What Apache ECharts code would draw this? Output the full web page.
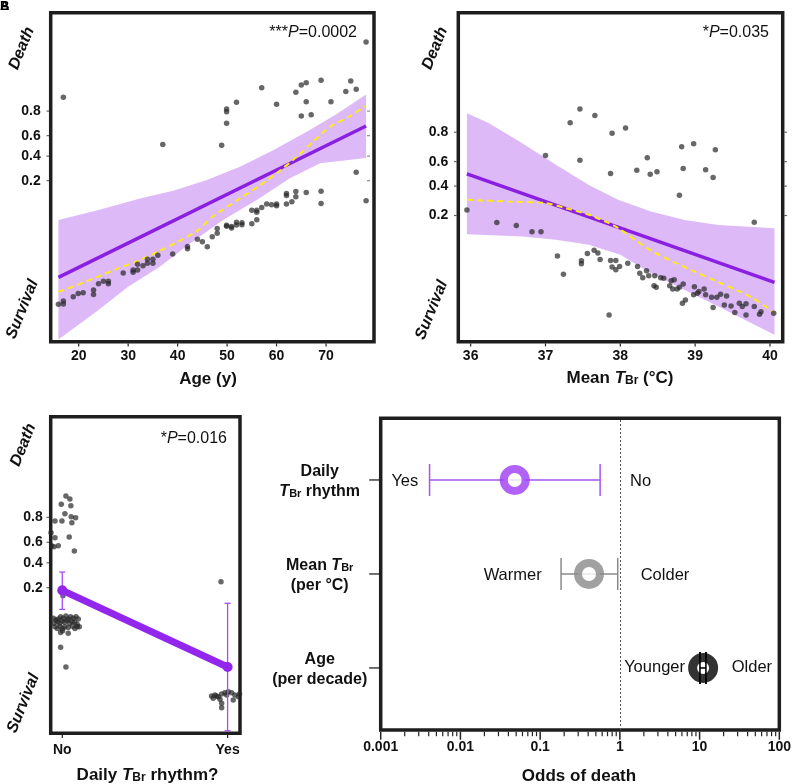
<!DOCTYPE html>
<html><head><meta charset="utf-8">
<script src="https://cdn.jsdelivr.net/npm/echarts@6/dist/echarts.min.js"></script>
<style>html,body{margin:0;padding:0;background:#fff}#c{width:794px;height:784px}</style>
</head><body><div id="c"></div>
<script>
// ---------------- DATA ----------------
const probTicks = [0.2, 0.4, 0.6, 0.8];
const ageTicks = [20, 30, 40, 50, 60, 70];
const tempTicks = [36, 37, 38, 39, 40];
const rhythmCats = ['No', 'Yes'];
const oddsTickLabels = ['0.001', '0.01', '0.1', '1', '10', '100'];

const ageSurvived = [[15.9,-6.30],[16.9,-6.17],[16.9,-6.29],[18.9,-6.00],[19.9,-5.87],[20.9,-5.84],[23.0,-5.73],[23.0,-5.91],[24.0,-5.48],[25.0,-5.38],[26.0,-5.38],[26.0,-5.48],[29.0,-5.06],[31.0,-4.94],[31.0,-5.03],[31.9,-4.71],[31.9,-4.94],[33.0,-4.77],[33.9,-4.51],[33.9,-4.67],[35.0,-4.51],[35.0,-4.67],[36.0,-4.35],[39.0,-4.30],[42.0,-4.00],[42.0,-4.09],[44.0,-3.71],[45.0,-3.81],[46.0,-4.01],[47.0,-3.61],[48.0,-3.48],[48.0,-3.29],[49.9,-3.16],[49.9,-3.20],[50.9,-3.21],[50.9,-3.27],[51.9,-3.04],[51.9,-3.15],[53.0,-3.06],[53.0,-3.14],[55.0,-3.10],[55.0,-2.56],[56.0,-2.56],[56.0,-2.64],[56.0,-2.94],[57.0,-2.45],[58.0,-2.31],[59.0,-2.34],[60.0,-2.31],[60.0,-2.38],[62.0,-1.89],[62.0,-1.97],[62.0,-2.31],[63.1,-2.22],[63.9,-1.81],[63.9,-2.02],[66.0,-1.85],[69.0,-1.80],[69.0,-2.29],[78.1,-2.18],[76.1,-1.05]];
const ageDied = [[16.9,1.94],[37.0,0.06],[48.9,0.03],[49.9,1.47],[49.9,1.36],[49.9,0.90],[51.9,1.74],[57.0,2.31],[60.0,1.66],[63.9,2.13],[65.0,2.42],[66.0,2.51],[66.0,1.76],[65.0,1.19],[67.0,1.24],[69.0,2.61],[71.0,1.76],[74.0,2.16],[75.0,2.58],[76.1,2.25],[78.1,4.13]];
const ageFitX = [15.9, 78.1];
const ageFitY = [-5.23, 0.79];
const ageLoessX = [15.9,19.2,23.9,28.0,32.0,36.0,40.1,44.1,47.2,52.6,56.7,60.0,64.1,67.4,70.8,74.9,77.9];
const ageLoessY = [-5.80,-5.57,-5.20,-4.87,-4.57,-4.21,-3.81,-3.35,-2.80,-2.09,-1.56,-1.09,-0.43,0.17,0.76,1.19,1.58];
const ageBandUpX = [15.9,24.0,32.4,39.1,45.9,52.6,59.3,66.1,72.0,78.1];
const ageBandUpY = [-2.95,-2.55,-2.09,-1.78,-1.36,-0.83,-0.17,0.56,1.25,2.05];
const ageBandLoX = [15.9,24.0,30.0,36.4,42.5,49.2,56.0,62.7,68.8,78.1];
const ageBandLoY = [-7.70,-6.53,-5.60,-4.81,-3.88,-2.95,-2.15,-1.29,-0.69,-0.48];

const tempDied = [[37.46,2.16],[37.66,1.94],[37.33,1.70],[37.89,1.35],[37.00,0.61],[37.46,0.45],[37.87,0.01],[38.07,1.53],[38.82,0.90],[38.98,1.00],[38.36,0.54],[39.27,0.80],[38.22,0.12],[38.40,-0.01],[38.49,0.07],[38.84,0.18],[39.14,0.14],[39.24,-0.12],[38.79,-0.71],[39.79,-1.61]];
const tempSurvived = [[35.95,-1.20],[36.35,-1.62],[36.61,-1.72],[36.82,-1.92],[36.94,-1.92],[37.16,-2.73],[37.24,-3.34],[37.48,-2.89],[37.48,-2.99],[37.56,-2.65],[37.65,-2.54],[37.70,-2.63],[37.73,-2.85],[37.87,-2.88],[37.89,-3.10],[37.94,-2.88],[37.94,-3.19],[37.85,-4.69],[37.99,-3.08],[38.10,-2.97],[38.23,-3.08],[38.26,-3.30],[38.30,-3.45],[38.35,-3.22],[38.38,-3.39],[38.46,-3.39],[38.45,-3.72],[38.48,-3.77],[38.54,-3.45],[38.58,-3.47],[38.66,-3.72],[38.68,-3.55],[38.72,-3.52],[38.70,-3.83],[38.76,-3.83],[38.79,-3.77],[38.84,-3.66],[38.83,-4.30],[38.87,-4.19],[38.99,-3.75],[38.98,-4.02],[39.03,-3.97],[39.05,-3.91],[39.12,-3.83],[39.14,-4.02],[39.22,-4.10],[39.24,-4.44],[39.29,-4.10],[39.34,-4.00],[39.42,-4.06],[39.39,-4.36],[39.48,-4.39],[39.53,-4.61],[39.59,-4.30],[39.63,-4.41],[39.68,-4.32],[39.68,-4.69],[39.79,-4.41],[39.88,-4.58],[39.86,-4.67],[40.05,-4.63]];
const tempFitX = [35.95, 40.06];
const tempFitY = [0.00, -3.61];
const tempLoessX = [35.95,36.5,37.0,37.27,37.58,37.85,37.97,38.41,38.86,39.31,39.75,40.06];
const tempLoessY = [-0.86,-0.92,-0.97,-1.14,-1.36,-1.64,-1.80,-2.55,-3.10,-3.60,-4.10,-4.63];
const tempBandUpX = [35.95,36.24,36.69,37.14,37.58,37.97,38.41,38.86,39.31,40.06];
const tempBandUpY = [2.02,1.69,1.02,0.30,-0.37,-0.86,-1.25,-1.53,-1.70,-1.81];
const tempBandLoX = [35.95,36.69,37.14,37.58,38.0,38.41,38.86,39.31,40.06];
const tempBandLoY = [-2.01,-2.08,-2.19,-2.36,-2.69,-3.30,-3.86,-4.41,-5.35];

const rhythmPoints = [[0.022,2.23],[0.046,2.11],[-0.006,1.90],[0.052,1.84],[0.016,1.53],[-0.044,1.24],[-0.002,1.24],[0.054,1.41],[0.081,1.37],[0.058,1.17],[-0.068,0.78],[-0.044,0.58],[0.042,0.61],[-0.064,0.27],[-0.050,0.23],[-0.024,0.27],[0.073,0.06],[0.004,-1.70],
[-0.054,-2.59],[-0.038,-2.66],[-0.024,-2.62],[-0.010,-2.53],[0.006,-2.59],[0.022,-2.50],[0.036,-2.62],[0.050,-2.53],[0.067,-2.59],[0.083,-2.53],[0.097,-2.62],
[-0.050,-2.79],[-0.030,-2.72],[-0.016,-2.79],[0.000,-2.70],[0.014,-2.75],[0.030,-2.68],[0.044,-2.79],[0.060,-2.72],[0.075,-2.75],[0.090,-2.82],[0.103,-2.92],
[-0.044,-2.92],[-0.030,-2.99],[-0.014,-2.90],[0.002,-2.99],[0.016,-2.92],[0.036,-2.95],[0.062,-2.90],[0.076,-2.99],[0.090,-2.92],
[0.002,-3.08],[0.036,-3.18],[-0.010,-3.15],[-0.010,-3.73],[0.022,-4.51],
[0.960,-1.15],[0.903,-5.65],[0.923,-5.61],[0.944,-5.68],[0.964,-5.57],[0.984,-5.52],[1.004,-5.48],[1.024,-5.52],[1.044,-5.61],[1.065,-5.68],[0.913,-5.74],[0.954,-5.78],[0.964,-5.94],[0.964,-6.11],[1.034,-5.81],[1.072,-5.57],[0.933,-5.65],[0.994,-5.61]];
const rhythmMean = [-1.49, -4.51];
const rhythmCiLow = [-2.24, -7.02];
const rhythmCiHigh = [-0.77, -2.00];

const forestRows = ['Age', 'Mean TBr', 'Daily TBr rhythm'];
const forestOdds = [11.07, 0.41, 0.048];
const forestLow = [10.1, 0.183, 0.0041];
const forestHigh = [12.0, 0.94, 0.565];

// ---------------- STYLE ----------------
const F = "'Liberation Sans', Arial, Helvetica, sans-serif";
const INK = '#111';
const BORDER = '#1e1e1e';
const PURPLE = '#8a1fe2';
const BAND = '#ddbaf7';
const YELLOW = '#ffe81a';
const DOT = 'rgba(38,38,38,0.88)';
const rowColors = ['#000000', '#8a8a8a', '#9d3cf6'];
const rowCiColors = ['#000000', '#8a8a8a', '#a653f5'];

const logit = p => Math.log(p / (1 - p));
const probLabel = v => (1 / (1 + Math.exp(-v))).toFixed(1);
const zip = (xs, ys) => xs.map((x, i) => [x, ys[i]]);
const L10 = Math.log10;

const ext = [[14.34, 79.70, -7.79, 5.30], [35.835, 40.17, -5.58, 5.36], [-0.07, 1.075, -7.12, 5.35], [-3, 2, 0.34, 3.656]];
const gridBox = [[50.7, 12.7, 323.3, 329], [458.3, 12.7, 324.4, 329], [50.7, 416.7, 189.3, 316.6], [380.7, 418.3, 400.3, 311.7]];

const gridStyle = {show: true, borderColor: BORDER, borderWidth: 3.5, backgroundColor: 'transparent', containLabel: false};
const tickLbl = {color: INK, fontFamily: F, fontWeight: 'bold', fontSize: 14};
const noLine = {show: false, onZero: false};

function xAx(gi, ticks, fmt, margin) {
  return {type: 'value', gridIndex: gi, position: 'bottom', min: ext[gi][0], max: ext[gi][1], axisLine: noLine, splitLine: {show: false},
    axisTick: {show: false},
    axisLabel: Object.assign({customValues: ticks, margin: margin, formatter: fmt}, tickLbl)};
}
function yLogit(gi, margin) {
  const t = probTicks.map(logit);
  return {type: 'value', gridIndex: gi, position: 'left', min: ext[gi][2], max: ext[gi][3], axisLine: noLine, splitLine: {show: false},
    axisTick: {show: false},
    axisLabel: Object.assign({customValues: t, margin: margin, formatter: probLabel}, tickLbl)};
}
function band(xi, ux, uy, lx, ly) {
  return {type: 'custom', xAxisIndex: xi, yAxisIndex: xi, silent: true, z: 1, clip: true,
    data: [[ux[0], uy[0]]],
    renderItem: (params, api) => {
      const pts = [];
      for (let i = 0; i < ux.length; i++) pts.push(api.coord([ux[i], uy[i]]));
      for (let i = lx.length - 1; i >= 0; i--) pts.push(api.coord([lx[i], ly[i]]));
      return {type: 'polygon', shape: {points: pts}, style: {fill: BAND}};
    }};
}
function fitLine(xi, xs, ys) {
  return {type: 'line', xAxisIndex: xi, yAxisIndex: xi, data: zip(xs, ys), showSymbol: false, silent: true, z: 3,
    lineStyle: {color: PURPLE, width: 3.5}};
}
function loess(xi, xs, ys) {
  return {type: 'line', xAxisIndex: xi, yAxisIndex: xi, data: zip(xs, ys), showSymbol: false, silent: true, z: 4,
    smooth: 0.3, lineStyle: {color: YELLOW, width: 2, type: [6, 4]}};
}
function dots(xi, data) {
  return {type: 'scatter', xAxisIndex: xi, yAxisIndex: xi, data, symbolSize: 5.5, z: 5, silent: true,
    itemStyle: {color: DOT}};
}

const richAxis = {
  b: {fontFamily: F, fontWeight: 'bold', fontSize: 16, color: INK, fill: INK, lineHeight: 20, verticalAlign: 'bottom'},
  bi: {fontFamily: F, fontWeight: 'bold', fontStyle: 'italic', fontSize: 16, color: INK, fill: INK, lineHeight: 20, verticalAlign: 'bottom'},
  bs: {fontFamily: F, fontWeight: 'bold', fontSize: 11, color: INK, fill: INK, lineHeight: 14, verticalAlign: 'bottom'}
};
const richTitle = {
  b: {fontFamily: F, fontWeight: 'bold', fontSize: 17, fill: INK, lineHeight: 21, verticalAlign: 'bottom'},
  bi: {fontFamily: F, fontWeight: 'bold', fontStyle: 'italic', fontSize: 17, fill: INK, lineHeight: 21, verticalAlign: 'bottom'},
  bs: {fontFamily: F, fontWeight: 'bold', fontSize: 12, fill: INK, lineHeight: 15, verticalAlign: 'bottom'}
};
const richP = {
  n: {fontFamily: F, fontSize: 16, fill: INK, lineHeight: 20, verticalAlign: 'bottom'},
  i: {fontFamily: F, fontSize: 16, fontStyle: 'italic', fill: INK, lineHeight: 20, verticalAlign: 'bottom'}
};
const rowLabelText = ['{b|Age}\n{b|(per decade)}', '{b|Mean }{bi|T}{bs|Br}\n{b|(per °C)}', '{b|Daily}\n{bi|T}{bs|Br}{b| rhythm}'];

function gtext(x, y, text, rich, align) {
  return {type: 'text', x, y, silent: true, z: 100,
    style: {text, rich, align: align, textAlign: align, verticalAlign: 'middle', textVerticalAlign: 'middle', fill: INK}};
}
function sideLabel(x, y, text) {
  return {type: 'text', x, y, rotation: 68 * Math.PI / 180, silent: true, z: 100,
    style: {text, fontFamily: F, fontWeight: 'bold', fontStyle: 'italic', fontSize: 16, fill: INK,
      align: 'center', textAlign: 'center', verticalAlign: 'middle', textVerticalAlign: 'middle'}};
}
function plain(x, y, text, align) {
  return {type: 'text', x, y, silent: true, z: 100,
    style: {text, fontFamily: F, fontSize: 16.5, fill: INK, align, textAlign: align, verticalAlign: 'middle', textVerticalAlign: 'middle'}};
}

const majorTicks = [-3, -2, -1, 0, 1, 2];
const minorTicks = [];
for (let d = -3; d < 2; d++) for (let k = 2; k <= 9; k++) minorTicks.push(d + L10(k));

function ciItem(api, color, dir) {
  const st = {stroke: color, lineWidth: dir === 'v' ? 1.3 : 1.5};
  let a, b, kids;
  if (dir === 'v') {
    const x = api.value(0);
    a = api.coord([x, api.value(1)]); b = api.coord([x, api.value(2)]);
    kids = [
      {type: 'line', shape: {x1: a[0] - 3, y1: a[1], x2: a[0] + 3, y2: a[1]}, style: st},
      {type: 'line', shape: {x1: b[0] - 3, y1: b[1], x2: b[0] + 3, y2: b[1]}, style: st}];
  } else {
    const r = api.value(2);
    a = api.coord([api.value(0), r]); b = api.coord([api.value(1), r]);
    kids = [
      {type: 'line', shape: {x1: a[0], y1: a[1] - 16, x2: a[0], y2: a[1] + 16}, style: st},
      {type: 'line', shape: {x1: b[0], y1: b[1] - 16, x2: b[0], y2: b[1] + 16}, style: st}];
  }
  kids.unshift({type: 'line', shape: {x1: a[0], y1: a[1], x2: b[0], y2: b[1]}, style: st});
  return {type: 'group', children: kids};
}

const chart = echarts.init(document.getElementById('c'), null, {renderer: 'canvas'});
chart.setOption({
  animation: false,
  backgroundColor: '#fff',
  grid: gridBox.map(g => Object.assign({left: g[0], top: g[1], width: g[2], height: g[3]}, gridStyle)),
  xAxis: [
    xAx(0, ageTicks, v => String(v), 7),
    xAx(1, tempTicks, v => String(v), 7),
    xAx(2, [0, 1], v => rhythmCats[Math.round(v)], 10),
    xAx(3, majorTicks, v => oddsTickLabels[Math.round(v) + 3], 10)
  ],
  yAxis: [
    yLogit(0, 10),
    yLogit(1, 10),
    yLogit(2, 8),
    {type: 'value', gridIndex: 3, position: 'left', min: ext[3][2], max: ext[3][3], axisLine: noLine, splitLine: {show: false},
      axisTick: {show: false},
      axisLabel: {customValues: [1, 2, 3], margin: 61, align: 'center', formatter: v => rowLabelText[Math.round(v) - 1], rich: richAxis}}
  ],
  series: [
    band(0, ageBandUpX, ageBandUpY, ageBandLoX, ageBandLoY),
    fitLine(0, ageFitX, ageFitY),
    loess(0, ageLoessX, ageLoessY),
    dots(0, ageSurvived),
    dots(0, ageDied),

    band(1, tempBandUpX, tempBandUpY, tempBandLoX, tempBandLoY),
    fitLine(1, tempFitX, tempFitY),
    loess(1, tempLoessX, tempLoessY),
    dots(1, tempSurvived),
    dots(1, tempDied),

    dots(2, rhythmPoints),
    {type: 'custom', xAxisIndex: 2, yAxisIndex: 2, silent: true, z: 6,
      data: rhythmMean.map((m, i) => [i, rhythmCiLow[i], rhythmCiHigh[i]]),
      encode: {x: 0, y: [1, 2]},
      renderItem: (params, api) => ciItem(api, '#a24ef2', 'v')},
    {type: 'line', xAxisIndex: 2, yAxisIndex: 2, silent: true, z: 7,
      data: rhythmMean.map((m, i) => [i, m]), symbol: 'circle', symbolSize: 10, showSymbol: true,
      itemStyle: {color: '#9326ec'}, lineStyle: {color: '#9326ec', width: 7}},

    {type: 'custom', xAxisIndex: 3, yAxisIndex: 3, silent: true, z: 4,
      data: forestOdds.map((o, i) => [L10(forestLow[i]), L10(forestHigh[i]), i + 1]),
      encode: {x: [0, 1], y: 2},
      renderItem: (params, api) => ciItem(api, rowCiColors[params.dataIndex], 'h')},
    {type: 'scatter', xAxisIndex: 3, yAxisIndex: 3, silent: true, z: 5,
      data: forestOdds.map((o, i) => ({value: [L10(o), i + 1],
        itemStyle: {color: '#fff', borderColor: rowColors[i], borderWidth: i === 0 ? 9 : 8}})),
      symbolSize: (v, p) => p.dataIndex === 0 ? 21 : 22,
      markLine: {silent: true, symbol: 'none', label: {show: false}, animation: false,
        lineStyle: {type: [2, 2], color: '#555', width: 1}, data: [{xAxis: 0}]}},
    {type: 'custom', xAxisIndex: 3, yAxisIndex: 3, silent: true, z: 6,
      data: [[L10(forestLow[0]), L10(forestHigh[0]), 1]],
      encode: {x: [0, 1], y: 2},
      renderItem: (params, api) => ciItem(api, '#000', 'h')}
  ]
});

// ----- tick marks, x/y positions from the axes' own scales -----
const ticks = [];
function rectTick(x, y, w, h, c) {
  ticks.push({type: 'rect', silent: true, zlevel: 1, z: 60, shape: {x, y, width: w, height: h}, style: {fill: c || '#222'}});
}
function xPix(gi, v) { return chart.convertToPixel({xAxisIndex: gi, yAxisIndex: gi}, [v, ext[gi][2]]); }
function yPix(gi, v) { return chart.convertToPixel({yAxisIndex: gi}, v); }
function bottomTicks(gi, vals, len, w) {
  vals.forEach(v => { const p = xPix(gi, v); rectTick(p[0] - w / 2, p[1] + 1.7, w, len); });
}
const logitTicks = probTicks.map(logit);
bottomTicks(0, ageTicks, 3, 1.2);
bottomTicks(1, tempTicks, 3, 1.2);
bottomTicks(2, [0, 1], 3, 1.2);
bottomTicks(3, majorTicks, 8, 1.5);
bottomTicks(3, minorTicks, 4.5, 1.2);
[0, 1, 2].forEach(gi => logitTicks.forEach(v => { const y = yPix(gi, v); rectTick(gridBox[gi][0] - 4.2, y - 0.5, 2.5, 1, '#444'); }));
logitTicks.forEach(v => { const y = yPix(1, v); rectTick(gridBox[1][0] + gridBox[1][2] + 1.7, y - 0.5, 2.5, 1, '#444'); });
logitTicks.forEach(v => { const y = yPix(0, v); rectTick(gridBox[0][0] + gridBox[0][2] - 7, y - 0.5, 3, 1, '#777'); });
[1, 2, 3].forEach(r => { const y = yPix(3, r); rectTick(gridBox[3][0] - 11.5, y - 0.65, 9.8, 1.3); });

chart.setOption({
  graphic: ticks.concat([
    {type: 'text', x: 0, y: 0, silent: true, style: {text: 'A', fontFamily: F, fontWeight: 'bold', fontSize: 13, fill: '#000'}},
    {type: 'text', x: 0, y: 0, silent: true, style: {text: 'B', fontFamily: F, fontWeight: 'bold', fontSize: 13, fill: '#000'}},
    gtext(357, 31, '{n|***}{i|P}{n|=0.0002}', richP, 'right'),
    gtext(769, 31, '{n|*}{i|P}{n|=0.035}', richP, 'right'),
    gtext(227, 437, '{n|*}{i|P}{n|=0.016}', richP, 'right'),
    gtext(208, 377, '{b|Age (y)}', richTitle, 'center'),
    gtext(620, 376, '{b|Mean }{bi|T}{bs|Br}{b| (°C)}', richTitle, 'center'),
    gtext(147.5, 773, '{b|Daily }{bi|T}{bs|Br}{b| rhythm?}', richTitle, 'center'),
    gtext(579, 774, '{b|Odds of death}', richTitle, 'center'),
    sideLabel(21.7, 48.3, 'Death'), sideLabel(22.3, 309.3, 'Survival'),
    sideLabel(435, 48.3, 'Death'), sideLabel(431.7, 310, 'Survival'),
    sideLabel(23.3, 445, 'Death'), sideLabel(23.3, 703.3, 'Survival'),
    plain(418.3, 481, 'Yes', 'right'), plain(630, 481, 'No', 'left'),
    plain(541.7, 575, 'Warmer', 'right'), plain(640.7, 575, 'Colder', 'left'),
    plain(685, 667.5, 'Younger', 'right'), plain(731.7, 667.5, 'Older', 'left')
  ])
});
</script></body></html>
